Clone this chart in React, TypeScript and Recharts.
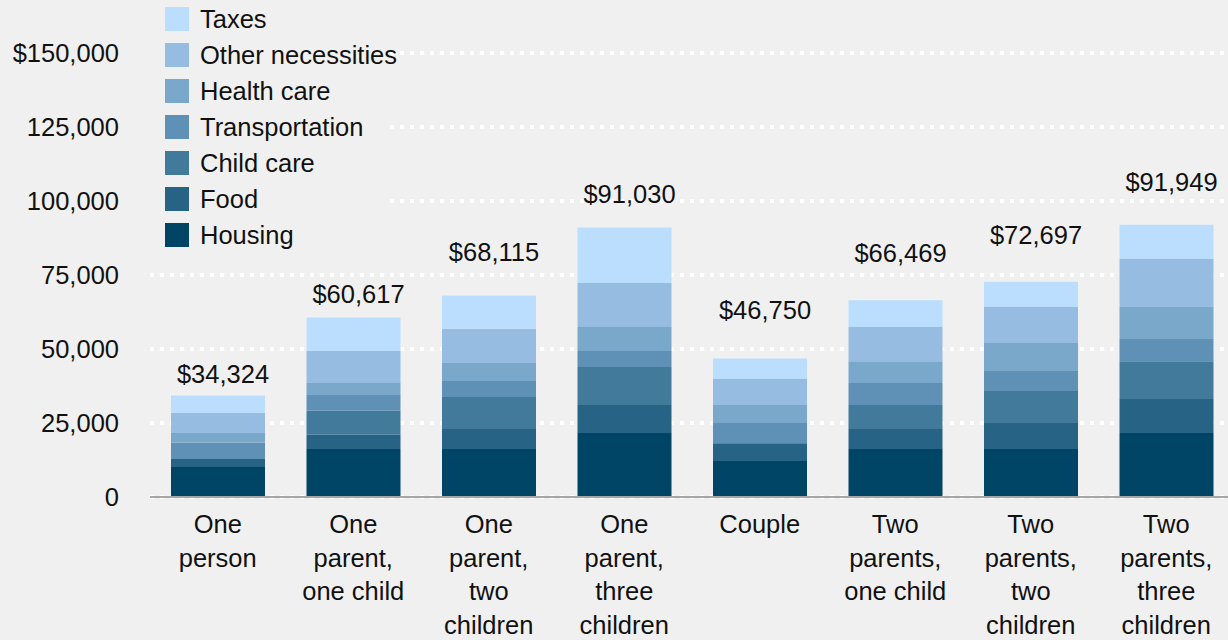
import { BarChart, Bar, XAxis, YAxis, CartesianGrid, Legend, LabelList } from "recharts";

const FONT = "'Liberation Sans', Arial, sans-serif";
const INK = "#111111";
const FS = 25.5;

const CATEGORIES = [
  "One person",
  "One parent, one child",
  "One parent, two children",
  "One parent, three children",
  "Couple",
  "Two parents, one child",
  "Two parents, two children",
  "Two parents, three children",
];

// the same names, broken the way the axis prints them
const CATEGORY_LINES = [
  ["One", "person"],
  ["One", "parent,", "one child"],
  ["One", "parent,", "two", "children"],
  ["One", "parent,", "three", "children"],
  ["Couple"],
  ["Two", "parents,", "one child"],
  ["Two", "parents,", "two", "children"],
  ["Two", "parents,", "three", "children"],
];

// annual budget components, dollars
const HOUSING = [10128, 16200, 16200, 21600, 12200, 16200, 16200, 21600];
const FOOD = [2700, 4800, 6800, 9500, 6000, 6800, 8800, 11500];
const CHILD_CARE = [0, 8100, 10800, 12800, 0, 8100, 10800, 12800];
const TRANSPORTATION = [5480, 5400, 5400, 5400, 6800, 7400, 6800, 7500];
const HEALTH_CARE = [3300, 4000, 6100, 8100, 6100, 7400, 9400, 10800];
const OTHER = [6800, 10800, 11500, 14900, 8800, 11500, 12200, 16200];
const TAXES = [5916, 11317, 11315, 18730, 6850, 9069, 8497, 11549];
const TOTALS = [34324, 60617, 68115, 91030, 46750, 66469, 72697, 91949];

const Y_TICKS = [0, 25000, 50000, 75000, 100000, 125000, 150000];

// how far each total label sits above its bar (px, baseline to bar top)
const LABEL_LIFT = [12, 15, 34, 25, 40, 38, 38, 34];

const SERIES = [
  { key: "housing", name: "Housing", values: HOUSING, color: "#004566" },
  { key: "food", name: "Food", values: FOOD, color: "#266385" },
  { key: "childCare", name: "Child care", values: CHILD_CARE, color: "#417a9b" },
  { key: "transportation", name: "Transportation", values: TRANSPORTATION, color: "#5e91b5" },
  { key: "healthCare", name: "Health care", values: HEALTH_CARE, color: "#7aa8cb" },
  { key: "other", name: "Other necessities", values: OTHER, color: "#96bde1" },
  { key: "taxes", name: "Taxes", values: TAXES, color: "#bbddfe" },
];

const rows = CATEGORIES.map((name, i) => {
  const row: Record<string, string | number> = { name, total: TOTALS[i] };
  SERIES.forEach((s) => {
    row[s.key] = s.values[i];
  });
  return row;
});

const money = (v: number) => "$" + v.toLocaleString("en-US");

function CategoryTick(props: any) {
  const { x, y, payload } = props;
  const idx = CATEGORIES.indexOf(payload.value);
  const lines = CATEGORY_LINES[idx] ?? [payload.value];
  return (
    <text x={x} y={y} textAnchor="middle" fill={INK} style={{ fontFamily: FONT, fontSize: FS }}>
      {lines.map((ln, k) => (
        <tspan key={k} x={x} dy={k === 0 ? 36 : 33.5}>
          {ln}
        </tspan>
      ))}
    </text>
  );
}

function TotalLabel(props: any) {
  const vb = props.viewBox ?? {};
  const x = Number(vb.x ?? props.x);
  const y = Number(vb.y ?? props.y);
  const w = Number(vb.width ?? props.width);
  const i = typeof props.index === "number" ? props.index : TOTALS.indexOf(Number(props.value));
  return (
    <text
      x={x + w / 2 + 5}
      y={y - (LABEL_LIFT[i] ?? 12)}
      textAnchor="middle"
      fill={INK}
      style={{ fontFamily: FONT, fontSize: FS }}
    >
      {money(TOTALS[i])}
    </text>
  );
}

function StackLegend() {
  // top of the legend = top of the stack
  const items = [...SERIES].reverse();
  return (
    <div style={{ position: "relative", width: 240, height: 255 }}>
      {items.map((s, k) => (
        <div
          key={s.key}
          style={{
            position: "absolute",
            left: 0,
            top: 1 + k * 36,
            height: 36,
            display: "flex",
            alignItems: "center",
            whiteSpace: "nowrap",
          }}
        >
          <span style={{ width: 24, height: 24, marginLeft: 15, background: s.color, display: "inline-block" }} />
          <span style={{ marginLeft: 11, fontSize: FS, color: INK, fontFamily: FONT, lineHeight: "36px" }}>
            {s.name}
          </span>
        </div>
      ))}
    </div>
  );
}

export default function App() {
  return (
    <div
      style={{
        position: "fixed",
        left: 0,
        top: 0,
        width: 1228,
        height: 640,
        overflow: "hidden",
        background: "#f0f0f0",
        fontFamily: FONT,
      }}
    >
      <BarChart width={1234} height={640} data={rows} margin={{ top: 53, right: 0, bottom: 0, left: 0 }}>
        <CartesianGrid vertical={false} stroke="#ffffff" strokeWidth={4} strokeDasharray="4 6" />
        <XAxis
          dataKey="name"
          interval={0}
          height={143}
          tickLine={false}
          tickSize={0}
          tickMargin={0}
          axisLine={{ stroke: "#a6a6a6", strokeWidth: 2 }}
          tick={<CategoryTick />}
        />
        <YAxis
          width={150}
          domain={[0, 150000]}
          ticks={Y_TICKS}
          interval={0}
          axisLine={false}
          tickLine={false}
          tickSize={0}
          tickMargin={31}
          tick={{ fill: INK, fontSize: FS, fontFamily: FONT }}
          tickFormatter={(v: number) => (v === 150000 ? money(v) : v.toLocaleString("en-US"))}
        />
        <Legend
          layout="vertical"
          align="center"
          verticalAlign="middle"
          content={<StackLegend />}
          wrapperStyle={{ top: 0, left: 150, width: 240, height: 255, background: "#f0f0f0" }}
        />
        {SERIES.map((s) => (
          <Bar
            key={s.key}
            dataKey={s.key}
            name={s.name}
            stackId="budget"
            fill={s.color}
            barSize={94}
            isAnimationActive={false}
          >
            {s.key === "taxes" && <LabelList dataKey="total" content={<TotalLabel />} />}
          </Bar>
        ))}
      </BarChart>
    </div>
  );
}
